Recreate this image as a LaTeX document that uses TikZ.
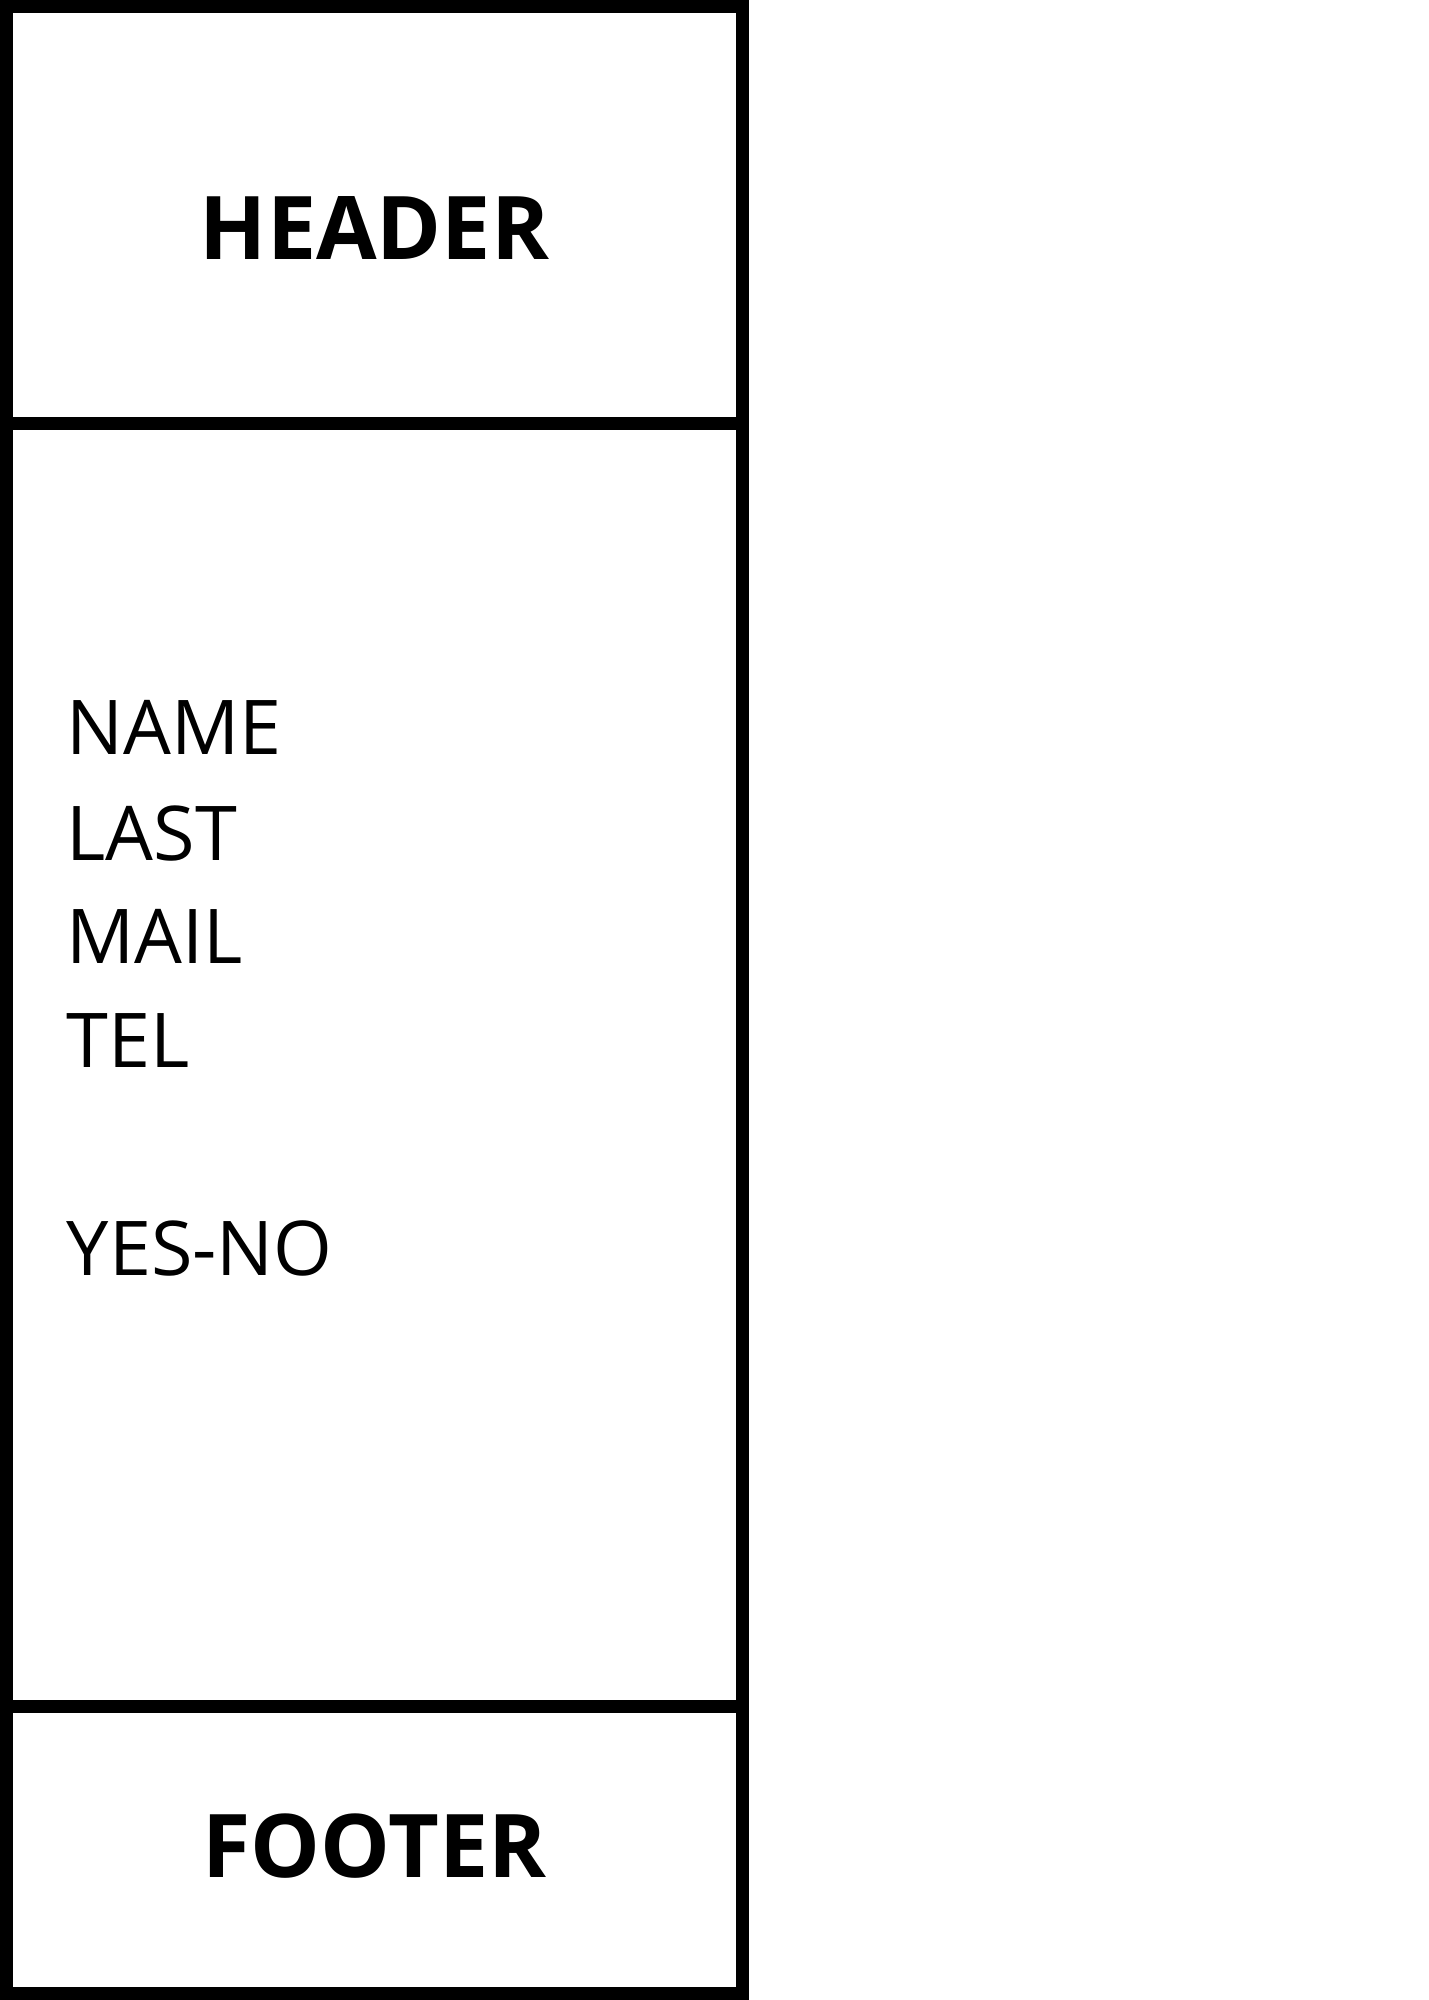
\documentclass[tikz,border=0pt]{standalone}
\usepackage{fontspec}
\setmainfont{Open Sans}
\usepackage{tikz}
\usetikzlibrary{positioning}

\begin{document}
\begin{tikzpicture}
\tikzstyle{frame}=[draw=black, line width=1.3mm]
\tikzstyle{title}=[inner sep=0pt, anchor=base, font=\fontsize{25pt}{30pt}\selectfont\bfseries]
\tikzstyle{field}=[inner sep=0pt, anchor=base west, font=\fontsize{21.5pt}{30pt}\selectfont]
%%
\useasboundingbox (0,0) rectangle (14.28,-20);
\draw [frame] (0.065,-0.065) rectangle (7.425,-19.935);
\draw [frame] (0.065,-4.235) -- (7.425,-4.235);
\draw [frame] (0.065,-17.06) -- (7.425,-17.06);

\node (header) at (3.745,-2.59) [title] {HEADER};
\node (footer) at (3.745,-18.77) [title] {FOOTER};

\node (name) at (0.66,-7.54) [field] {NAME};
\node (last) at (0.66,-8.60) [field] {LAST};
\node (mail) at (0.66,-9.63) [field] {MAIL};
\node (tel) at (0.66,-10.67) [field] {TEL};
\node (yesno) at (0.66,-12.75) [field] {YES-NO};
\end{tikzpicture}
\end{document}
